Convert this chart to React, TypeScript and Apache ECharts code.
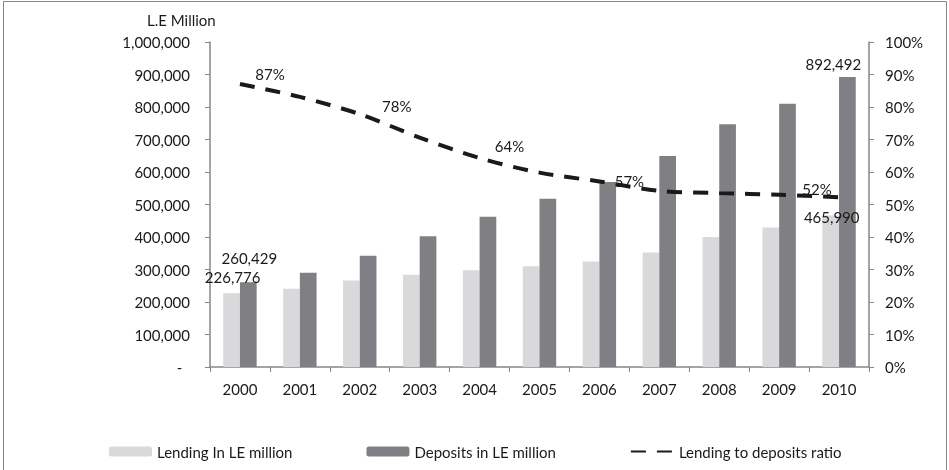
import React, { useEffect, useRef } from "react";
import * as echarts from "echarts";

const years = ["2000", "2001", "2002", "2003", "2004", "2005", "2006", "2007", "2008", "2009", "2010"];
const lending = [226776, 241000, 266000, 284000, 298000, 310000, 325000, 352000, 400000, 429000, 465990];
const deposits = [260429, 290000, 342000, 402000, 462000, 518000, 569000, 649000, 747000, 810000, 892492];
const ratio = [87.1, 83.1, 77.8, 70.6, 64.3, 59.8, 57.1, 54.2, 53.5, 53.0, 52.2];
const seriesNames = ["Lending In LE million", "Deposits in LE million", "Lending to deposits ratio"];
const unitLabel = "L.E Million";

const FONT = "Lato";
const TXT = "#1a1a1a";
const AXIS = "#868686";

export default function App() {
  const ref = useRef<HTMLDivElement>(null);
  useEffect(() => {
    if (!ref.current) return;
    const chart = echarts.init(ref.current, undefined, { renderer: "svg" });
    const fmt = (v: number) => v.toLocaleString("en-US");

    const lendingLabels: Record<number, any> = {
      0: { show: true, position: "top", offset: [1, -4] },
      10: { show: true, position: "top", offset: [1, 14] },
    };
    const depositLabels: Record<number, any> = {
      0: { show: true, position: "top", offset: [1, -12] },
      10: { show: true, position: "top", offset: [-14, 0] },
    };
    const ratioLabels: Record<number, number[]> = {
      0: [30, -10],
      2: [37, -8],
      4: [30, -12],
      6: [30, 0],
      10: [-22, -8],
    };

    const labelText = { fontFamily: FONT, fontSize: 15, color: TXT };

    chart.setOption({
      animation: false,
      textStyle: { fontFamily: FONT },
      grid: { left: 210, right: 80, top: 42, bottom: 103 },
      graphic: [
        {
          type: "rect",
          shape: { x: 3.5, y: 1.5, width: 943, height: 490 },
          style: { fill: "none", stroke: AXIS, lineWidth: 1 },
          silent: true,
        },
        {
          type: "text",
          left: 147,
          top: 12,
          style: { text: unitLabel, fontFamily: FONT, fontSize: 15, fill: TXT },
        },
      ],
      legend: {
        left: 104,
        top: 439,
        itemWidth: 43,
        itemHeight: 10,
        itemGap: 74,
        textStyle: { fontFamily: FONT, fontSize: 15, color: TXT },
        data: seriesNames,
      },
      xAxis: {
        type: "category",
        data: years,
        axisLine: { lineStyle: { color: AXIS, width: 1.5 } },
        axisTick: { show: true, length: 5, lineStyle: { color: AXIS } },
        axisLabel: { margin: 14, fontFamily: FONT, fontSize: 15, color: TXT },
      },
      yAxis: [
        {
          type: "value",
          min: 0,
          max: 1000000,
          interval: 100000,
          splitLine: { show: false },
          axisLine: { show: true, lineStyle: { color: AXIS, width: 1.5 } },
          axisTick: { show: true, length: 5, lineStyle: { color: AXIS } },
          axisLabel: {
            margin: 20,
            fontFamily: FONT,
            fontSize: 15,
            color: TXT,
            formatter: (v: number) => (v === 0 ? "-  " : fmt(v)),
          },
        },
        {
          type: "value",
          min: 0,
          max: 100,
          interval: 10,
          position: "right",
          splitLine: { show: false },
          axisLine: { show: true, lineStyle: { color: AXIS, width: 1.5 } },
          axisTick: { show: true, length: 5, lineStyle: { color: AXIS } },
          axisLabel: { margin: 16, fontFamily: FONT, fontSize: 15, color: TXT, formatter: "{value}%" },
        },
      ],
      series: [
        {
          name: seriesNames[0],
          type: "bar",
          barWidth: 16.7,
          barGap: "0%",
          itemStyle: { color: "#d9d9db" },
          data: lending.map((v, i) => ({
            value: v,
            label: lendingLabels[i]
              ? { ...lendingLabels[i], ...labelText, formatter: (p: any) => fmt(p.value) }
              : { show: false },
          })),
        },
        {
          name: seriesNames[1],
          type: "bar",
          barWidth: 16.7,
          barGap: "0%",
          itemStyle: { color: "#808084" },
          data: deposits.map((v, i) => ({
            value: v,
            label: depositLabels[i]
              ? { ...depositLabels[i], ...labelText, formatter: (p: any) => fmt(p.value) }
              : { show: false },
          })),
        },
        {
          name: seriesNames[2],
          type: "line",
          yAxisIndex: 1,
          smooth: 0.3,
          symbol: "circle",
          symbolSize: 1,
          showSymbol: true,
          itemStyle: { color: "rgba(0,0,0,0)" },
          lineStyle: { color: "#1a1a1a", width: 4, type: [15, 11] },
          data: ratio.map((v, i) => ({
            value: v,
            label: ratioLabels[i]
              ? {
                  show: true,
                  position: "inside",
                  offset: ratioLabels[i],
                  ...labelText,
                  formatter: (p: any) => Math.round(p.value) + "%",
                }
              : { show: false },
          })),
        },
      ],
    });
    return () => chart.dispose();
  }, []);

  return <div ref={ref} style={{ position: "fixed", left: 0, top: 0, width: 949, height: 470 }} />;
}
